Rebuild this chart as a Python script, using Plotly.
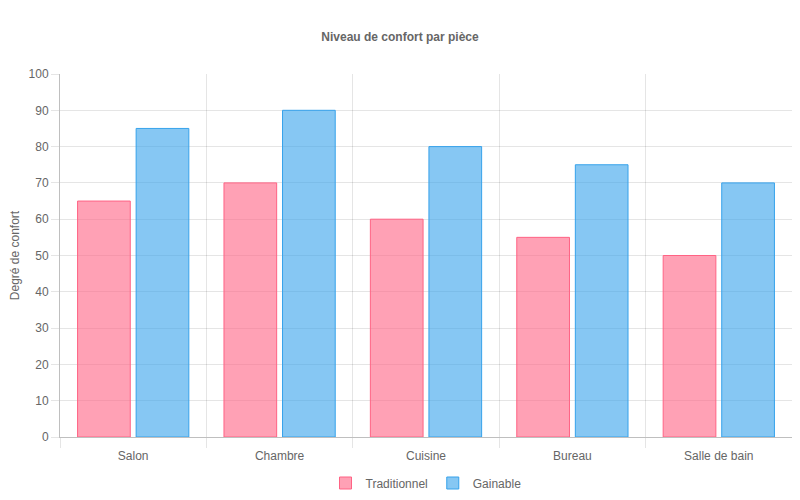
import plotly.graph_objects as go

rooms = ["Salon", "Chambre", "Cuisine", "Bureau", "Salle de bain"]
traditionnel = [65, 70, 60, 55, 50]
gainable = [85, 90, 80, 75, 70]

font_family = "Liberation Sans, Arial, Helvetica, sans-serif"
grey_text = "#666666"
grid = "rgba(0,0,0,0.1)"

fig = go.Figure()

fig.add_trace(go.Bar(x=rooms, y=traditionnel, name="Traditionnel",
                     marker=dict(color="rgba(255,99,132,0.6)",
                                 line=dict(color="rgb(255,99,132)", width=1))))
fig.add_trace(go.Bar(x=rooms, y=gainable, name="Gainable",
                     marker=dict(color="rgba(54,162,235,0.6)",
                                 line=dict(color="rgb(54,162,235)", width=1))))

# page body has an 8px margin, so the figure is sized to fit the window
W, H = 784, 484
fig.update_layout(
    width=W, height=H,
    margin=dict(l=52, r=0, t=66, b=55),
    plot_bgcolor="white",
    paper_bgcolor="white",
    font=dict(family=font_family, size=12, color=grey_text),
    title=dict(text="<b>Niveau de confort par pièce</b>", x=0.5, xanchor="center",
               y=1 - 29 / H, yanchor="middle",
               font=dict(size=12, color=grey_text)),
    barmode="group",
    bargap=0.2,
    bargroupgap=0.1,
    legend=dict(orientation="h", x=0.5, xanchor="center",
                yref="container", y=9 / H, yanchor="middle",
                font=dict(size=12, color=grey_text)),
    xaxis=dict(type="category", tickson="boundaries", showgrid=True, gridcolor=grid,
               ticks="outside", ticklen=10, tickcolor=grid, automargin=False,
               ticklabelstandoff=8,
               showline=True, linecolor="rgba(0,0,0,0.25)",
               tickfont=dict(size=12, color=grey_text)),
    yaxis=dict(range=[0, 100], dtick=10, showgrid=True, gridcolor=grid,
               ticks="outside", ticklen=8, tickcolor=grid, automargin=False,
               showline=True, linecolor="rgba(0,0,0,0.25)", zeroline=False,
               title=dict(text="Degré de confort", font=dict(size=12, color=grey_text), standoff=12),
               tickfont=dict(size=12, color=grey_text)),
)

fig.write_html("out.html")
